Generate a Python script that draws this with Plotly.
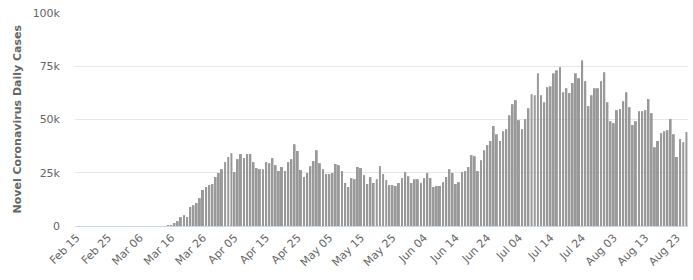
import pandas as pd
import plotly.graph_objects as go

# Categories: daily dates Feb 15 - Aug 26 (2020)
dates = pd.date_range("2020-02-15", "2020-08-26", freq="D")
categories = [d.strftime("%b %d") for d in dates]

# Daily new cases (values too small to show are 0)
feb_values = [0, 0, 0, 0, 0, 0, 0, 0, 0, 0, 0, 0, 0, 0, 0]
mar_early_values = [0, 0, 0, 0, 0, 0, 0, 0, 0, 0, 0, 0, 0, 0]
mar_apr_values = [400, 450, 1400, 2300, 4200, 5100, 4200, 8900, 9800, 10800,
                  13100, 16900, 18300, 19200, 19700, 23000, 24900, 26700, 30000, 32400,
                  34200, 25300, 31400, 33800, 31900, 33800, 33800, 30000, 27200, 26700,
                  26700, 30000, 29500, 31900, 28600, 25800, 27700, 25800, 30000, 31400,
                  38400, 35200, 26300, 23000, 24900, 28100, 30500, 35600, 29500, 26700]
may_jun_values = [24400, 24400, 24900, 29100, 28600, 25800, 20200, 18300, 22500, 22000,
                  27700, 27200, 23900, 19700, 23000, 20200, 22000, 28100, 24400, 21600,
                  19200, 19200, 18800, 20200, 22500, 25300, 23400, 20200, 22000, 22000,
                  20200, 22500, 24900, 22500, 18300, 18800, 18800, 20600, 23000, 26700,
                  24900, 19700, 20600, 25300, 25800, 27700, 33300, 32800, 25800, 30900]
jul_aug_values = [35600, 38000, 39900, 46900, 43100, 39900, 44500, 45500, 52000, 57200,
                  59100, 49700, 45500, 50200, 55300, 61900, 61400, 71700, 61400, 58100,
                  65200, 65600, 71700, 73100, 74600, 62800, 64700, 62400, 67100, 71700,
                  69400, 77800, 68000, 56300, 61400, 64700, 64700, 68000, 72200, 58100,
                  49200, 48300, 54400, 54900, 58600, 62800, 55800, 47400, 49200, 53900,
                  53900, 54400, 59600, 53000, 37000, 39900, 43600, 44500, 45000, 50200,
                  43100, 32400, 40800, 39400, 44100]
daily_cases = feb_values + mar_early_values + mar_apr_values + may_jun_values + jul_aug_values

y_tick_vals = [0, 25000, 50000, 75000, 100000]
y_tick_text = ["0", "25k", "50k", "75k", "100k"]
x_tick_vals = categories[::10]

n = min(len(categories), len(daily_cases))
categories = categories[:n]
daily_cases = daily_cases[:n]

FONT = "DejaVu Sans"

fig = go.Figure(
    go.Bar(
        x=categories,
        y=daily_cases,
        marker=dict(color="#999999", line=dict(width=0)),
        hoverinfo="x+y",
    )
)

fig.update_layout(
    width=693,
    height=280,
    margin=dict(l=75, r=5, t=13, b=54),
    paper_bgcolor="white",
    plot_bgcolor="white",
    bargap=0.37,
    showlegend=False,
    font=dict(family=FONT, size=11, color="#666666"),
)

fig.update_xaxes(
    type="category",
    categoryorder="array",
    categoryarray=categories,
    range=[-0.5, n - 0.5],
    tickmode="array",
    tickvals=x_tick_vals,
    ticktext=x_tick_vals,
    tickangle=-45,
    showgrid=False,
    showline=True,
    linecolor="#ccd6eb",
    linewidth=1,
    ticks="",
    tickfont=dict(family=FONT, size=11, color="#666666"),
    fixedrange=True,
)

fig.update_yaxes(
    range=[0, 100000],
    tickmode="array",
    tickvals=y_tick_vals,
    ticktext=y_tick_text,
    showgrid=True,
    gridcolor="#e6e6e6",
    gridwidth=1,
    zeroline=False,
    showline=False,
    ticks="",
    ticklabelstandoff=14,
    tickfont=dict(family=FONT, size=11, color="#666666"),
    fixedrange=True,
)

fig.add_annotation(
    text="<b>Novel Coronavirus Daily Cases</b>",
    textangle=-90,
    xref="paper", yref="paper",
    x=(17 - 75) / (693 - 80), y=0.5,
    xanchor="center", yanchor="middle",
    showarrow=False,
    font=dict(family=FONT, size=11, color="#666666"),
)

fig.write_html("out.html", config={"displayModeBar": False})
